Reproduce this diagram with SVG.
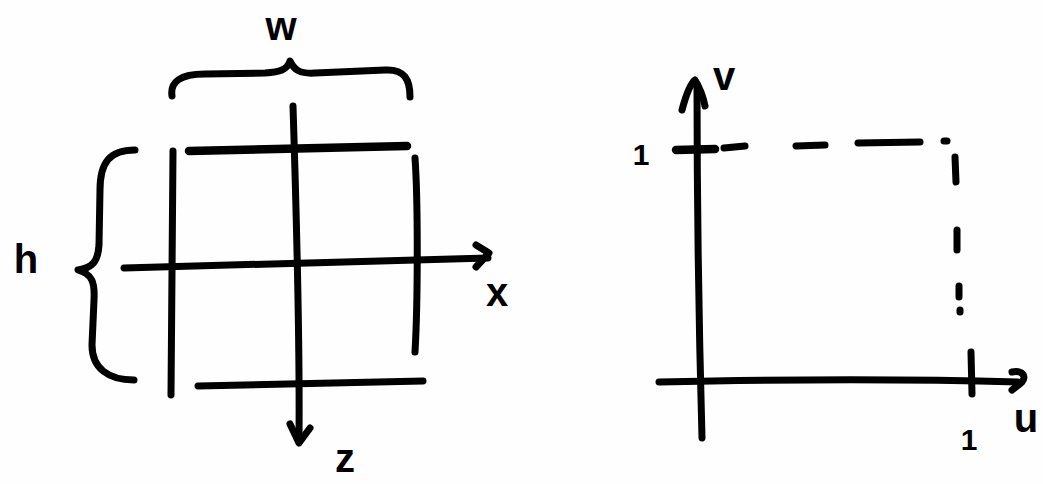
<svg xmlns="http://www.w3.org/2000/svg" width="1043" height="484" viewBox="0 0 1043 484">
<style>
.s{fill:none;stroke:#000;stroke-width:7;stroke-linecap:round;stroke-linejoin:round}
.t{stroke-width:8.5}
.d{fill:none;stroke:#000;stroke-width:7;stroke-linecap:round}
.lbl{font-family:"Liberation Sans",Arial,sans-serif;font-size:40px;font-weight:bold;fill:#000;text-anchor:middle}
.one{font-family:"Liberation Sans",Arial,sans-serif;font-size:30px;font-weight:bold;fill:#000;text-anchor:middle}
</style>
<rect width="1043" height="484" fill="#fefefe"/>
<g id="left-figure">
  <g id="w-brace">
    <path class="s" d="M172,96 C170,82 180,74 205,74 L265,73 C280,72 287,70 290,61 C294,70 300,74 315,73 L385,70 C405,69 410,80 410,97"/>
    <text class="lbl" x="281" y="40">w</text>
  </g>
  <g id="h-brace">
    <path class="s" d="M135,150 C110,150 100,162 100,190 L99,245 C98,262 92,268 78,270 C92,274 95,282 94,300 L92,345 C92,368 108,380 134,380"/>
    <text class="lbl" x="26" y="273">h</text>
  </g>
  <g id="grid">
    <path class="s t" d="M189,151 L407,146"/>
    <path class="s" d="M173,151 L171,395"/>
    <path class="s" d="M415,158 C418,200 418,300 415,352"/>
    <path class="s" d="M198,386 L423,381"/>
  </g>
  <g id="x-axis">
    <path class="s" d="M124,268 L488,258"/>
    <path class="s" d="M476,245 L489,253 L476,267"/>
    <text class="lbl" x="497" y="306">x</text>
  </g>
  <g id="z-axis">
    <path class="s" d="M293,106 C296,200 300,330 299,440"/>
    <path class="s" d="M290,424 L299,443 L310,428"/>
    <text class="lbl" x="345" y="472">z</text>
  </g>
</g>
<g id="right-figure">
  <g id="v-axis">
    <path class="s" d="M702,438 C699,330 697,200 697,84"/>
    <path class="s" d="M682,110 C686,95 690,84 695,80 C700,88 703,96 705,106"/>
    <text class="lbl" x="724" y="90">v</text>
  </g>
  <g id="u-axis">
    <path class="s" d="M659,382 C750,380 880,378 1018,382"/>
    <path class="s" d="M1012,372 C1022,370 1027,376 1022,382 C1018,386 1014,388 1012,390"/>
    <text class="lbl" x="1026" y="432">u</text>
  </g>
  <g id="ticks">
    <path class="s t" d="M676,150 L715,149"/>
    <path class="s" d="M971,352 L972,394"/>
    <text class="one" x="641" y="165">1</text>
    <text class="one" x="969" y="450">1</text>
  </g>
  <g id="dashed-box">
    <path class="d t" d="M724,148 L745,146"/>
    <path class="d t" d="M796,146 L825,145"/>
    <path class="d t" d="M858,143 L920,142"/>
    <path class="d" d="M944,141 L947,141"/>
    <path class="d" d="M955,157 L956,182"/>
    <path class="d" d="M957,230 L957,250"/>
    <path class="d" d="M959,286 L959,297"/>
    <path class="d" d="M960,310 L960,312"/>
  </g>
</g>
</svg>
